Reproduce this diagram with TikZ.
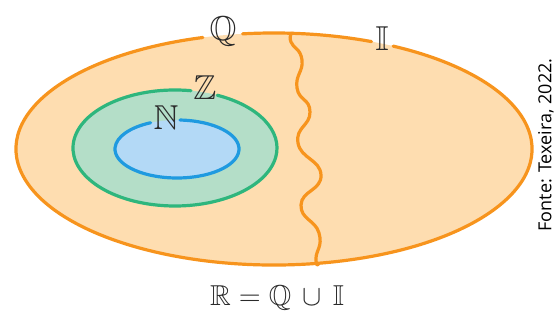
\documentclass[tikz,border=0pt]{standalone}
\usepackage{amsmath,amssymb}
\usepackage{fontspec}
\setsansfont{Open Sans}
\usepackage{tikz}
\usetikzlibrary{positioning}
\definecolor{setorange}{HTML}{F7941D}
\definecolor{setpeach}{HTML}{FEDDB0}
\definecolor{setgreen}{HTML}{2EB67D}
\definecolor{setmint}{HTML}{B4DEC8}
\definecolor{setblue}{HTML}{1F9AE0}
\definecolor{setsky}{HTML}{B3D9F6}
\definecolor{darkgray}{HTML}{2A2A2A}
\tikzset{
  setlabel/.style={text=darkgray,inner sep=1pt,font=\LARGE},
  rim/.style={line width=1.6pt,line cap=round},
  source/.style={font=\sffamily\small,text=black,rotate=90}
}

\begin{document}
\begin{tikzpicture}[x=0.5pt,y=0.5pt]
\useasboundingbox (0,0) rectangle (560,320);
% real numbers: Q and I
\def\cx{274}
\def\cy{171}
\def\rx{258}
\def\ry{116}
\fill[setpeach] (\cx,\cy) ellipse[x radius=\rx,y radius=\ry];
\draw[setorange,rim] (\cx,\cy) ++(106:{\rx} and {\ry}) arc[start angle=106,end angle=422.5,x radius=\rx,y radius=\ry];
\draw[setorange,rim] (\cx,\cy) ++(97:{\rx} and {\ry}) arc[start angle=97,end angle=67.8,x radius=\rx,y radius=\ry];
% border between Q and I
\draw[setorange,rim] plot[smooth,tension=0.9] coordinates {(292,287) (291,278) (302,260) (297,232) (310,208) (298,177) (321,145) (301,115) (319,87) (316,62) (318,55)};
% integers
\fill[setmint] (175,172) ellipse[x radius=102,y radius=58];
\draw[setgreen,rim] (175,172) ++(81:102 and 58) arc[start angle=81,end angle=425.5,x radius=102,y radius=58];
% naturals
\fill[setsky] (177,171) ellipse[x radius=62,y radius=29];
\draw[setblue,rim] (177,171) ++(87.2:62 and 29) arc[start angle=87.2,end angle=-244.8,x radius=62,y radius=29];
% labels
\node[setlabel] (q) at (223,289) {$\mathbb{Q}$};
\node[setlabel] (i) at (382,281) {$\mathbb{I}$};
\node[setlabel] (z) at (205,232) {$\mathbb{Z}$};
\node[setlabel] (n) at (166,202) {$\mathbb{N}$};
\node[setlabel,font=\Large] (union) at (277,22) {$\mathbb{R}=\mathbb{Q}\,\cup\,\mathbb{I}$};
\node[source] (fonte) at (546,175) {Fonte: Texeira, 2022.};
\end{tikzpicture}
\end{document}
